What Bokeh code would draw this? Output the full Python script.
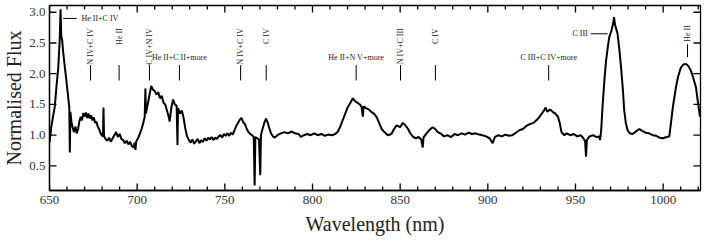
import math
from bokeh.plotting import figure
from bokeh.models import SingleIntervalTicker, FixedTicker, PrintfTickFormatter, Range1d
from bokeh.core.properties import value
from bokeh.embed import file_html
from bokeh.resources import INLINE

# ---------------- data ----------------
wavelength = [
    650, 650.5, 651, 652, 653, 654, 655, 655.8, 656.3, 656.7, 657.2, 657.8, 658.7, 659.5,
    660.5, 661.3, 661.6, 661.9, 662.5, 663.2, 664, 664.8, 665.5, 666.3, 667, 667.8, 668.5,
    669.3, 670, 670.8, 671.5, 672.3, 673, 673.8, 674.5, 675.3, 676, 676.8, 677.5, 678.3,
    679, 679.8, 680.5, 680.8, 681.1, 682, 683, 684, 685, 686, 687, 688, 689, 690, 691,
    692, 693, 694, 695, 696, 697, 698, 698.5, 699, 699.5, 700.5, 701.5, 702.5, 703.5,
    704.3, 704.7, 705, 706, 707, 708, 709, 710, 711, 712, 713, 714, 715, 716, 717, 718,
    718.5, 719.5, 720.5, 721.5, 722.5, 723, 723.3, 724.5, 725.5, 726.5, 727.5, 728.5,
    729.5, 730.5, 731.5, 732.5, 733.5, 734.5, 735.5, 736.5, 737.5, 738.5, 739.5, 740.5,
    741.5, 742.5, 743.5, 744.5, 745.5, 746.5, 747.5, 748.5, 749.5, 750.5, 751.5, 752.5,
    753.5, 754.5, 755.5, 756.5, 757.5, 758.5, 759.5, 760.5, 761.5, 762.5, 763.5, 764.5,
    765.5, 766.5, 767, 767.4, 768.5, 769.5, 770.2, 770.6, 771.5, 772.5, 773.5, 774.5,
    775.5, 776.5, 777.5, 778.5, 780, 782, 784, 786, 788, 790, 792, 793.5, 795, 797, 799,
    801, 803, 805, 807, 809, 811, 813, 814.5, 816, 818, 820, 821.5, 823, 824.5, 826, 827,
    828, 828.7, 829.2, 830.5, 832, 833.5, 835, 836.5, 838, 839.5, 841, 843, 845, 846.5,
    848, 850, 851.5, 853, 854.5, 856, 857.5, 859, 860.5, 862, 862.9, 863.3, 864.8, 866.5,
    868.5, 870, 871.5, 873.5, 875, 877, 879, 881, 883, 885, 887, 889, 891, 893, 895, 897,
    899, 901, 902.8, 904, 906, 908, 910, 912, 914, 916, 918, 920, 922, 924, 926, 928, 930,
    932, 933, 934, 935.5, 937, 938.5, 940, 941, 942, 943.5, 945, 947, 949, 951, 953, 954.5,
    955.5, 956, 956.5, 958, 960, 962, 963.5, 964, 964.7, 965.5, 966.5, 967.4, 968.5, 969.3,
    970.5, 971.5, 972, 972.5, 973.3, 974, 975, 976, 977, 977.8, 978.7, 979.7, 981, 982.5,
    984, 986.4, 988, 990, 992, 994, 996, 998, 1000, 1002, 1003.5, 1004.4, 1005.5, 1007.3,
    1008.5, 1010.1, 1011.5, 1013, 1014.5, 1015.8, 1017, 1018.7, 1020, 1021,
]
flux = [
    0.88, 1.0, 1.13, 1.3, 1.46, 1.8, 2.1, 2.54, 3.05, 2.62, 2.55, 2.35, 2.12, 1.92,
    1.66, 1.45, 0.72, 1.38, 1.22, 1.12, 1.05, 1.14, 1.03, 1.1, 1.22, 1.3, 1.24,
    1.36, 1.3, 1.37, 1.28, 1.35, 1.27, 1.32, 1.24, 1.29, 1.2, 1.22, 1.14, 1.1,
    1.04, 1.0, 0.98, 1.45, 0.98, 0.94, 0.91, 0.96, 0.89, 0.95, 1.0, 1.05, 0.97, 1.02, 0.94,
    0.92, 0.87, 0.91, 0.85, 0.89, 0.82, 0.8, 0.88, 0.76, 0.9, 0.95, 1.02, 1.1, 1.2,
    1.3, 1.76, 1.35, 1.5, 1.65, 1.8, 1.74, 1.72, 1.66, 1.7, 1.6, 1.64, 1.53, 1.5, 1.4, 1.3,
    1.22, 1.45, 1.58, 1.5, 1.48, 0.84, 1.44, 1.35, 1.4, 1.28, 1.1, 0.98,
    0.92, 0.88, 0.93, 0.86, 0.9, 0.94, 0.87, 0.92, 0.89, 0.95, 0.91, 0.96,
    0.93, 0.97, 0.92, 0.96, 0.94, 0.98, 1.0, 0.96, 1.02, 0.99, 1.03, 0.99,
    1.04, 1.01, 1.08, 1.15, 1.2, 1.25, 1.28, 1.21, 1.18, 1.1, 1.05, 1.02,
    1.0, 0.97, 0.18, 0.97, 0.95, 0.93, 0.35, 1.0, 1.1, 1.2, 1.27, 1.2,
    1.1, 1.02, 0.98, 0.96, 1.0, 1.03, 1.05, 1.03, 1.06, 1.03, 1.02, 0.97, 1.0, 1.02, 1.0,
    1.03, 1.0, 1.02, 0.99, 1.01, 1.0, 1.02, 1.06, 1.15, 1.3, 1.45, 1.52, 1.6, 1.55, 1.52, 1.5,
    1.46, 1.3, 1.47, 1.44, 1.42, 1.38, 1.35, 1.3, 1.2, 1.1, 1.05, 1.0, 1.02, 1.1,
    1.16, 1.13, 1.2, 1.16, 1.1, 1.02, 0.97, 0.95, 0.97, 0.93, 0.8, 0.96, 1.02, 1.08,
    1.13, 1.1, 1.05, 1.02, 0.98, 1.0, 0.97, 1.02, 1.0, 1.03, 1.01, 1.04, 1.02, 1.03, 1.01, 1.0,
    0.98, 0.95, 0.87, 0.97, 1.0, 0.98, 1.01, 0.99, 1.0, 1.04, 1.08, 1.1, 1.15, 1.18, 1.2, 1.25, 1.32,
    1.4, 1.45, 1.38, 1.42, 1.38, 1.35, 1.3, 1.2, 1.05, 1.0, 1.03, 1.0, 1.02, 0.98, 1.0, 0.95,
    0.9, 0.65, 0.92, 0.98, 1.0, 0.97, 0.98, 0.92, 1.1, 1.5, 1.9, 2.2, 2.45, 2.6,
    2.7, 2.82, 2.92, 2.8, 2.72, 2.65, 2.4, 2.1, 1.75, 1.4, 1.2, 1.08, 1.03, 1.02,
    1.05, 1.1, 1.07, 1.04, 1.03, 1.0, 0.99, 0.96, 0.95, 0.97, 0.98, 1.19, 1.45, 1.78,
    1.95, 2.1, 2.15, 2.16, 2.12, 2.05, 1.95, 1.78, 1.5, 1.3,
]

x_ticks_major = [650, 700, 750, 800, 850, 900, 950, 1000]
x_ticks_minor = [660, 670, 680, 690, 710, 720, 730, 740, 760, 770, 780, 790, 810, 820,
                 830, 840, 860, 870, 880, 890, 910, 920, 930, 940, 960, 970, 980, 990,
                 1010, 1020]
y_ticks_major = [0.5, 1.0, 1.5, 2.0, 2.5, 3.0]

# vertical (rotated) line identifications
vert_labels = ["N IV+C IV", "He II", "C IV+N IV", "N IV+C IV", "C IV", "N IV+C III", "C IV"]
vert_wl = [673.4, 689.7, 707.0, 759.0, 773.6, 850.2, 870.1]
# horizontal identifications placed above a vertical tick
horiz_labels = ["He II+C II+more", "He II+N V+more", "C III+C IV+more"]
horiz_wl = [724.1, 824.9, 934.7]
# side-pointing identifications
side_labels = ["He II+C IV", "C III"]

FONT = "Liberation Serif"
X0, X1 = 650, 1021.3
Y0, Y1 = 0.1, 3.11
W, H = 704, 241
BL, BR, BT, BB = 48, 4, 5, 51
FW, FH = W - BL - BR, H - BT - BB   # frame size in px

p = figure(width=W, height=H, output_backend="svg", toolbar_location=None,
           x_range=Range1d(X0, X1), y_range=Range1d(Y0, Y1),
           min_border_left=BL, min_border_right=BR, min_border_top=BT,
           min_border_bottom=BB)
p.background_fill_color = "white"
p.border_fill_color = "white"
p.outline_line_color = "black"
p.outline_line_width = 1.3
p.xgrid.visible = False
p.ygrid.visible = False

p.line(wavelength, flux, line_color="black", line_width=2)

# inward tick marks on all four sides, lengths converted from pixels to data units
px_x = (X1 - X0) / FW
px_y = (Y1 - Y0) / FH
TK = dict(line_color="black", line_width=1.3)
nM, nm, ny = len(x_ticks_major), len(x_ticks_minor), len(y_ticks_major)
p.segment(x0=x_ticks_major, y0=[Y0] * nM, x1=x_ticks_major, y1=[Y0 + 7 * px_y] * nM, **TK)
p.segment(x0=x_ticks_minor, y0=[Y0] * nm, x1=x_ticks_minor, y1=[Y0 + 4 * px_y] * nm, **TK)
p.segment(x0=x_ticks_major, y0=[Y1] * nM, x1=x_ticks_major, y1=[Y1 - 7 * px_y] * nM, **TK)
p.segment(x0=x_ticks_minor, y0=[Y1] * nm, x1=x_ticks_minor, y1=[Y1 - 4 * px_y] * nm, **TK)
p.segment(x0=[X0] * ny, y0=y_ticks_major, x1=[X0 + 7 * px_x] * ny, y1=y_ticks_major, **TK)
p.segment(x0=[X1] * ny, y0=y_ticks_major, x1=[X1 - 7 * px_x] * ny, y1=y_ticks_major, **TK)

# annotation ticks and labels
tick_lo, tick_hi = 1.89, 2.14
TXT = dict(text_font=value(FONT), text_font_size="8px", text_color="#222222")
p.segment(x0=vert_wl, y0=[tick_lo] * len(vert_wl), x1=vert_wl, y1=[tick_hi] * len(vert_wl),
          line_color="black", line_width=1)
p.text(x=vert_wl, y=[2.74] * len(vert_wl), text=vert_labels, angle=math.pi / 2,
       text_align="right", text_baseline="middle", **TXT)

p.segment(x0=horiz_wl, y0=[tick_lo] * 3, x1=horiz_wl, y1=[tick_hi] * 3,
          line_color="black", line_width=1)
p.text(x=horiz_wl, y=[2.27] * 3, text=horiz_labels, text_align="center",
       text_baseline="middle", **TXT)

# He II + C IV (pointing to the 656 nm peak)
p.segment(x0=[657.8], y0=[2.90], x1=[665.5], y1=[2.90], line_color="black", line_width=1)
p.text(x=[668.2], y=[2.90], text=[side_labels[0]], text_align="left", text_baseline="middle",
       **TXT)
# C III (pointing to the 971 nm peak)
p.segment(x0=[958.8], y0=[2.65], x1=[968.3], y1=[2.65], line_color="black", line_width=1)
p.text(x=[957.0], y=[2.65], text=[side_labels[1]], text_align="right", text_baseline="middle",
       **TXT)
# He II (1014 nm)
p.segment(x0=[1013.9], y0=[2.27], x1=[1013.9], y1=[2.48], line_color="black", line_width=1)
p.text(x=[1013.9], y=[2.79], text=["He II"], angle=math.pi / 2, text_align="right",
       text_baseline="middle", **TXT)

# axes
def style_axis(ax):
    ax.axis_line_color = "black"
    ax.axis_line_width = 1.3
    ax.major_tick_in = 0
    ax.major_tick_out = 0
    ax.minor_tick_in = 0
    ax.minor_tick_out = 0
    ax.major_tick_line_color = None
    ax.minor_tick_line_color = None
    ax.major_label_text_font = FONT
    ax.major_label_text_font_size = "13px"
    ax.major_label_text_color = "#333333"
    ax.axis_label_text_font = FONT
    ax.axis_label_text_font_style = "normal"
    ax.axis_label_text_font_size = "20px"
    ax.axis_label_text_color = "#222222"

xb = p.xaxis[0]
xb.ticker = SingleIntervalTicker(interval=50, num_minor_ticks=5)
xb.axis_label = "Wavelength (nm)"
style_axis(xb)
xb.major_label_standoff = 5
xb.axis_label_standoff = 6

yl = p.yaxis[0]
yl.ticker = FixedTicker(ticks=y_ticks_major)
yl.formatter = PrintfTickFormatter(format="%.1f")
yl.axis_label = "Normalised Flux"
style_axis(yl)
yl.major_label_standoff = 4
yl.axis_label_standoff = 1

open("out.html", "w").write(file_html(p, INLINE))
